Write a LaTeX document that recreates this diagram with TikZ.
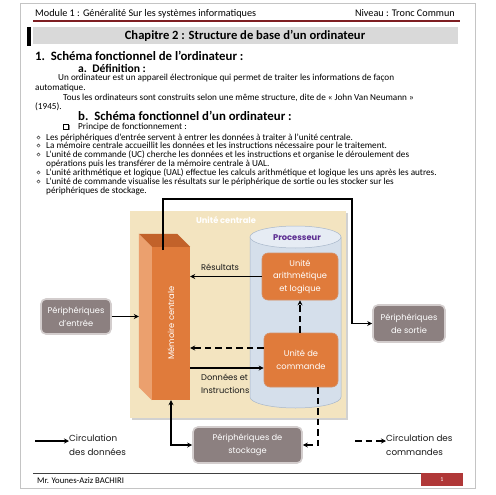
\documentclass[tikz,border=0pt]{standalone}
\usepackage{fontspec}
\setmainfont{Carlito}
\newfontfamily\diagfont{Poppins}
\usetikzlibrary{arrows.meta}
\definecolor{pageline}{HTML}{C4C4C4}
\definecolor{darkred}{HTML}{7E1E22}
\definecolor{titlegray}{HTML}{D9D9D9}
\definecolor{beige}{HTML}{F3E4C0}
\definecolor{cylfill}{HTML}{D5DFEB}
\definecolor{cyltop}{HTML}{E6ECF4}
\definecolor{cyledge}{HTML}{A8B7CA}
\definecolor{orangeA}{HTML}{E07B3B}
\definecolor{orangeTop}{HTML}{C2622A}
\definecolor{orangeSide}{HTML}{EBA06E}
\definecolor{perigray}{HTML}{8C8080}
\definecolor{periedge}{HTML}{D3CDCD}
\definecolor{procpurple}{HTML}{5C2D91}
\definecolor{footred}{HTML}{B03838}
\tikzset{
  body/.style={anchor=base west, inner sep=0pt, font=\fontsize{9.2}{10}\selectfont},
  bodybold/.style={anchor=base west, inner sep=0pt, font=\bfseries\fontsize{#1}{14}\selectfont},
  periph/.style={rounded corners=5pt, fill=perigray, draw=periedge, line width=1.6pt, text=white, align=center, font=\diagfont\fontsize{8.3}{13}\selectfont, inner sep=3pt},
  obox/.style={rounded corners=6pt, fill=orangeA, draw=orangeTop!70, line width=0.6pt, text=white, align=center, font=\diagfont\fontsize{8.3}{12.5}\selectfont, inner sep=2pt},
  lbl/.style={text=black!90, align=left, font=\diagfont\fontsize{8.3}{13}\selectfont, inner sep=0pt},
  flow/.style={-{Stealth[length=5pt,width=5pt]}, line width=1.1pt, black},
  cmd/.style={flow, dash pattern=on 6.5pt off 4pt},
}
\begin{document}
\begin{tikzpicture}[x=1pt,y=-1pt]
\useasboundingbox (0,0) rectangle (495,495);
\fill[white] (0,0) rectangle (495,495);
\draw[pageline, line width=0.8pt] (20,3) rectangle (475,488);

% header
\node[body, font=\fontsize{10.2}{11}\selectfont] (hdl) at (35,17) {Module 1 : Généralité Sur les systèmes informatiques};
\node[body, anchor=base east, font=\fontsize{10.2}{11}\selectfont] (hdr) at (455,17) {Niveau : Tronc Commun};
\draw[darkred, line width=1.6pt] (33,21) -- (460,21);
\fill[titlegray] (33,27) rectangle (458,44);
\fill[black] (27,27) rectangle (31,46);
\node[inner sep=0pt, font=\bfseries\fontsize{12.6}{14}\selectfont] (title) at (245,36) {Chapitre 2 : Structure de base d’un ordinateur};

% text
\node[bodybold=12.8] (s1) at (35,61) {1.\ \ Schéma fonctionnel de l’ordinateur :};
\node[bodybold=11.6] (sa) at (78,72) {a.\ \ Définition :};
\node[body] (t1) at (58,81) {Un ordinateur est un appareil électronique qui permet de traiter les informations de façon};
\node[body] (t2) at (35,90) {automatique.};
\node[body] (t3) at (63,100) {Tous les ordinateurs sont construits selon une même structure, dite de « John Van Neumann »};
\node[body] (t4) at (35,109) {(1945).};
\node[bodybold=12.8] (sb) at (78,120.5) {b.\ \ Schéma fonctionnel d’un ordinateur :};
\fill[black!45] (64.5,124.5) rectangle (69.5,129.5);
\node[draw=black, fill=white, line width=0.5pt, minimum size=4.6pt, inner sep=0pt] (chk) at (66,127) {};
\node[body] (t5) at (78,129.5) {Principe de fonctionnement :};
\foreach \yy/\nm in {140/b1,148/b2,157/b3,175/b5,184/b6}{
  \node[draw=black!80, circle, line width=0.4pt, minimum size=3.2pt, inner sep=0pt] (\nm) at (38.5,\yy-2.4) {};
}
\node[body] (l1) at (46,140) {Les périphériques d’entrée servent à entrer les données à traiter à l’unité centrale.};
\node[body] (l2) at (46,148) {La mémoire centrale accueillit les données et les instructions nécessaire pour le traitement.};
\node[body] (l3) at (46,157) {L’unité de commande (UC) cherche les données et les instructions et organise le déroulement des};
\node[body] (l4) at (46,166) {opérations puis les transférer de la mémoire centrale à UAL.};
\node[body] (l5) at (46,175) {L’unité arithmétique et logique (UAL) effectue les calculs arithmétique et logique les uns après les autres.};
\node[body] (l6) at (46,184) {L’unité de commande visualise les résultats sur le périphérique de sortie ou les stocker sur les};
\node[body] (l7) at (46,193) {périphériques de stockage.};

% unite centrale background
\fill[black!18] (132,213) rectangle (348,420);
\fill[beige] (130,211) rectangle (346,418);
\node[text=white, font=\diagfont\bfseries\fontsize{8.3}{10}\selectfont, inner sep=0pt] (uctitle) at (226,220) {Unité centrale};

% processeur cylinder
\fill[cylfill, draw=cyledge, line width=0.5pt] (250,237) -- (250,397) arc[start angle=180, end angle=0, x radius=45.5, y radius=11] -- (341,237) -- cycle;
\fill[cyltop, draw=cyledge, line width=0.5pt] (295.5,237) ellipse[x radius=45.5, y radius=11];
\node[text=procpurple, font=\diagfont\bfseries\fontsize{8.3}{10}\selectfont, inner sep=0pt] (proc) at (297,238) {Processeur};

\node[obox, minimum width=76pt, minimum height=47pt] (ual) at (300,276.5) {Unité\\arithmétique\\et logique};
\node[obox, minimum width=74pt, minimum height=54pt] (uc) at (301,360) {Unité de\\commande};

% memoire centrale 3D box
\node[fill=orangeA, minimum width=38pt, minimum height=153pt, inner sep=0pt] (mem) at (171,323.5) {};
\fill[orangeTop] (mem.north west) -- ++(-13,-13) -- ([shift={(-13,-13)}]mem.north east) -- (mem.north east) -- cycle;
\fill[orangeSide] (mem.north west) -- ++(-13,-13) -- ([shift={(-13,-13)}]mem.south west) -- (mem.south west) -- cycle;
\node[rotate=90, text=white, font=\diagfont\fontsize{8.3}{10}\selectfont, inner sep=0pt] (memlbl) at (171,323) {Mémoire centrale};
\coordinate (msl) at ([xshift=-13pt]mem.west);

% peripherals
\node[periph, minimum width=70pt, minimum height=35pt] (entree) at (76,316.5) {Périphériques\\d’entrée};
\node[periph, minimum width=72pt, minimum height=37pt] (sortie) at (409,323.5) {Périphériques\\de sortie};
\node[periph, minimum width=109pt, minimum height=36pt] (stock) at (247.5,445) {Périphériques de\\stockage};

% connectors
\coordinate (m1) at (163,250);
\coordinate (tr) at (352,199);
\draw[flow] (m1) |- (tr) |- (sortie.west);
\draw[flow] (entree.east) -- (entree.east -| msl);
\draw[flow] (ual.west) -- (ual.west -| mem.east);
\node[lbl, anchor=south] (res) at (220,271) {Résultats};
\draw[cmd] ([yshift=12pt]uc.west) -- ([yshift=12pt]uc.west -| mem.east);
\draw[flow] ([yshift=-8pt]uc.west -| mem.east) -- ([yshift=-8pt]uc.west);
\node[lbl, anchor=north west] (donnees) at (201,374) {Données et\\Instructions};
\draw[cmd] (uc.north -| ual.south) -- (ual.south);
\draw[flow, {Stealth[length=5pt,width=5pt]}-{Stealth[length=5pt,width=5pt]}] (mem.south) |- (stock.west);
\draw[cmd] ([xshift=17pt]uc.south) |- (stock.east);

% legend
\coordinate (lg1) at (35,441);
\node[lbl, anchor=west, font=\diagfont\fontsize{8.8}{14}\selectfont] (leg1) at (69,445) {Circulation\\des données};
\draw[flow] (lg1) -- (lg1 -| leg1.west);
\coordinate (lg2) at (355,441);
\node[lbl, anchor=west, font=\diagfont\fontsize{8.8}{14}\selectfont] (leg2) at (386,445) {Circulation des\\commandes};
\draw[cmd] (lg2) -- (lg2 -| leg2.west);

% footer
\draw[black!75, line width=0.8pt] (33,473) -- (463,473);
\node[body, font=\fontsize{8.7}{10}\selectfont] (foot) at (37,483.5) {Mr. Younes-Aziz BACHIRI};
\node[fill=footred, minimum width=42pt, minimum height=13pt, inner sep=0pt, text=white, font=\fontsize{6}{7}\selectfont] (pg) at (442,479.5) {1};
\end{tikzpicture}
\end{document}
